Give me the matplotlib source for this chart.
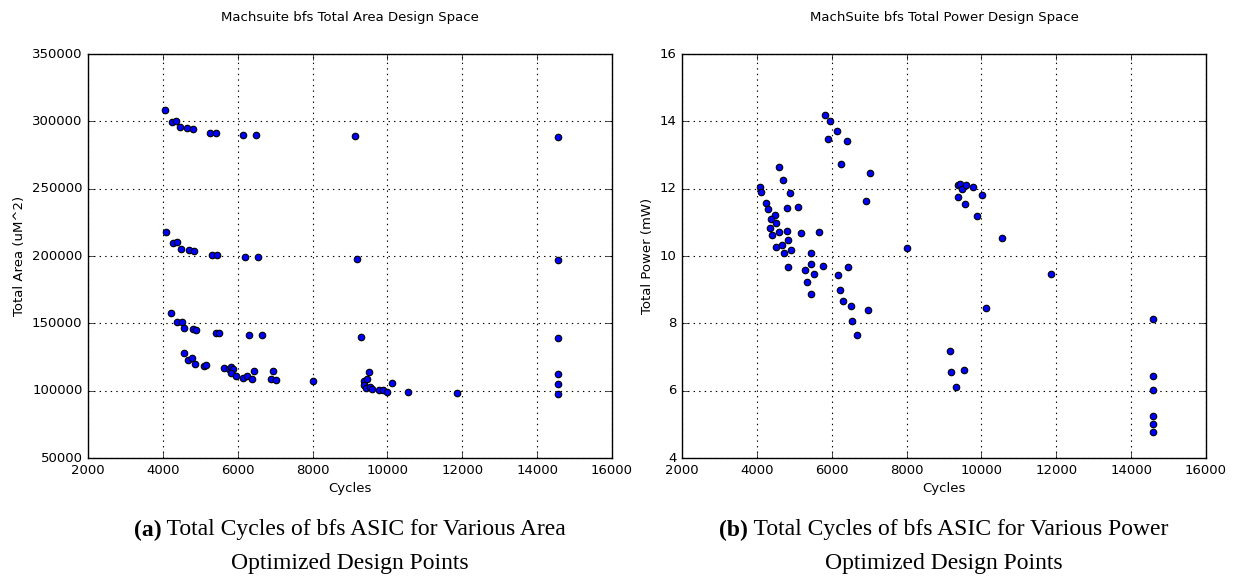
import matplotlib
matplotlib.use("Agg")
import matplotlib.pyplot as plt

# Area-optimized design points: (cycles, total area in uM^2)
area_cycles = [
    4066, 4244, 4351, 4458, 4653, 4797, 5268, 5420, 6150, 6488, 9143, 14560,
    4092, 4280, 4386, 4493, 4690, 4824, 5321, 5438, 6186, 6534, 9178, 14560,
    4209, 4369, 4503, 4565, 4813, 4894, 5411, 5500, 6293, 6657, 9302, 14566,
    4565, 4663, 4787, 4859, 5099, 5153, 5634, 5767, 5829, 5874, 5812, 5946,
    6133, 6240, 6390, 6427, 6881, 6943, 7023, 8004,
    9374, 9462, 9515, 9374, 9427, 9534, 9579, 9766, 9881, 9997, 10130,
    10541, 11859, 14566, 14566, 14566,
]
area_um2 = [
    308500, 299500, 300000, 295800, 295000, 294300, 291600, 291600, 289600, 290100, 288900, 288200,
    217600, 209900, 210200, 205000, 204200, 203500, 200700, 200700, 199000, 199300, 198000, 197200,
    157900, 151000, 151000, 146500, 145500, 145000, 142600, 142800, 141100, 141300, 139800, 139100,
    127700, 123000, 124500, 120000, 118500, 119000, 116800, 115900, 117600, 115900, 112900, 111100,
    109700, 110900, 108900, 114800, 108400, 114600, 108100, 106900,
    107400, 108400, 113600, 104200, 102000, 102500, 101000, 100500, 100300, 99300, 106000,
    99300, 98300, 112600, 105200, 97800,
]

# Power-optimized design points: (cycles, total power in mW)
power_cycles = [
    5829, 5962, 6141, 5892, 6400, 6240, 7023, 4583, 4690, 4084, 4111, 4877,
    6908, 4244, 4289, 4797, 5107, 4476, 4386, 4511, 4359, 4405, 4583, 4813,
    5171, 5652, 4832, 4511, 4671, 4912, 4717, 5439, 8003,
    9374, 9436, 9473, 9588, 9775, 10015, 9382, 9553, 9881, 10549,
    4840, 5286, 5446, 5518, 5775, 6168, 6443,
    5331, 5438, 6221, 6302, 6507, 6961, 6550, 6676,
    11858, 10130, 14575, 9160, 9195, 9534, 9320, 14575, 14575, 14575, 14575, 14575,
]
power_mw = [
    14.19, 14.01, 13.71, 13.48, 13.41, 12.73, 12.47, 12.63, 12.27, 12.05, 11.90, 11.88,
    11.64, 11.58, 11.41, 11.43, 11.47, 11.21, 11.09, 10.99, 10.83, 10.63, 10.71, 10.73,
    10.68, 10.70, 10.48, 10.28, 10.34, 10.18, 10.08, 10.08, 10.25,
    12.12, 12.14, 11.99, 12.10, 12.05, 11.82, 11.75, 11.54, 11.19, 10.54,
    9.68, 9.59, 9.75, 9.47, 9.71, 9.43, 9.67,
    9.23, 8.86, 9.00, 8.67, 8.52, 8.39, 8.06, 7.65,
    9.48, 8.45, 8.13, 7.18, 6.56, 6.61, 6.11, 6.45, 6.03, 5.26, 5.01, 4.77,
]

x_ticks = [2000, 4000, 6000, 8000, 10000, 12000, 14000, 16000]
area_ticks = [50000, 100000, 150000, 200000, 250000, 300000, 350000]
power_ticks = [4, 6, 8, 10, 12, 14, 16]

plt.style.use("classic")
plt.rcParams["font.family"] = ["DejaVu Sans"]

fig = plt.figure(figsize=(12.37, 5.76), dpi=100, facecolor="white")

W, H = 1237.0, 576.0
ax_a = fig.add_axes([88 / W, (H - 458) / H, 524 / W, 404 / H])
ax_p = fig.add_axes([682 / W, (H - 458) / H, 524 / W, 404 / H])

panels = [
    (ax_a, area_cycles, area_um2, area_ticks, (50000, 350000),
     "Machsuite bfs Total Area Design Space", "Total Area (uM^2)",
     "Total Cycles of bfs ASIC for Various Area"),
    (ax_p, power_cycles, power_mw, power_ticks, (4, 16),
     "MachSuite bfs Total Power Design Space", "Total Power (mW)",
     "Total Cycles of bfs ASIC for Various Power"),
]

renderer = fig.canvas.get_renderer()
cap_font = dict(fontsize=17, family="Liberation Serif", va="center")

for letter, (ax, xs, ys, yt, ylim, title, ylabel, cap) in zip("ab", panels):
    ax.scatter(xs, ys, s=22, c="blue", edgecolors="black", linewidths=0.8, zorder=3)
    ax.set_xlim(2000, 16000)
    ax.set_ylim(*ylim)
    ax.set_xticks(x_ticks)
    ax.set_yticks(yt)
    ax.tick_params(labelsize=9.5, length=4)
    ax.grid(True, linestyle=":", color="black", linewidth=0.8)
    ax.set_axisbelow(True)
    ax.set_xlabel("Cycles", fontsize=9.5, labelpad=4)
    ax.set_ylabel(ylabel, fontsize=9.5, labelpad=4)
    ax.text(0.5, 1 + 36 / 404, title, transform=ax.transAxes,
            ha="center", va="center", fontsize=9.5)

    # Sub-figure caption: bold "(x)" tag followed by regular text, centred under the axes
    pos = ax.get_position()
    cx = pos.x0 + pos.width / 2
    y1 = 1 - 530 / H
    tag = fig.text(0, y1, "(" + letter + ")", weight="bold", ha="left", **cap_font)
    body = fig.text(0, y1, " " + cap, ha="left", **cap_font)
    w_tag = tag.get_window_extent(renderer).width / fig.bbox.width
    w_body = body.get_window_extent(renderer).width / fig.bbox.width
    x0 = cx - (w_tag + w_body) / 2
    tag.set_x(x0)
    body.set_x(x0 + w_tag)
    fig.text(cx, 1 - 563 / H, "Optimized Design Points", ha="center", **cap_font)

fig.savefig("out.png", dpi=100, facecolor="white")
